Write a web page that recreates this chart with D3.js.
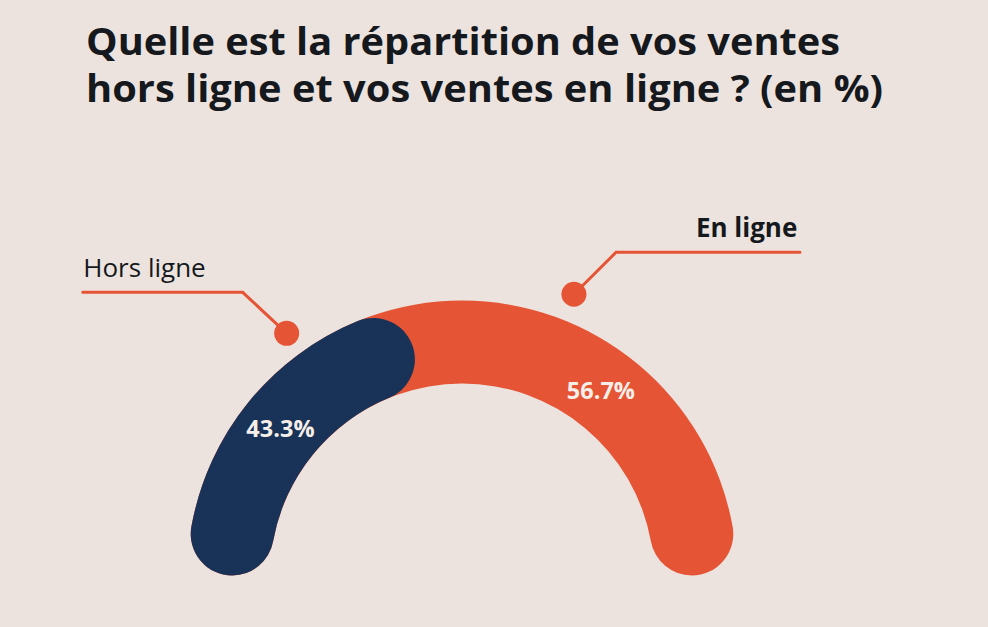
<!DOCTYPE html>
<html>
<head>
<meta charset="utf-8">
<script src="https://cdn.jsdelivr.net/npm/d3@7/dist/d3.min.js"></script>
<style>
  html, body { margin: 0; padding: 0; background: #EDE3DE; }
  svg { display: block; }
</style>
</head>
<body>
<svg id="chart" width="988" height="627"></svg>
<script>
// ---- data ----
const categories = ["Hors ligne", "En ligne"];
const values = [43.3, 56.7];
const valueLabels = ["43.3%", "56.7%"];
const titleLines = ["Quelle est la répartition de vos ventes", "hors ligne et vos ventes en ligne ? (en %)"];

// ---- styles ----
const colors = ["#183357", "#E55435"];
const bg = "#EDE3DE";
const textDark = "#15191d";
const labelLight = "#F6EEE8";

const svg = d3.select("#chart");
svg.append("rect").attr("width", 988).attr("height", 627).attr("fill", bg);

// title
const titleLens = [754, 797];
svg.append("g").selectAll("text").data(titleLines).join("text")
  .attr("x", 86)
  .attr("y", (d, i) => 54.5 + i * 47)
  .attr("font-family", "'Open Sans', sans-serif")
  .attr("font-weight", 700)
  .attr("font-size", 38)
  .attr("fill", textDark)
  .attr("textLength", (d, i) => titleLens[i])
  .attr("lengthAdjust", "spacingAndGlyphs")
  .text(d => d);

// gauge
const cx = 462, cy = 575.5;
const inner = 192, outer = 275;
const g = svg.append("g").attr("transform", `translate(${cx},${cy})`);

const pie = d3.pie().sort(null).value(d => d)
  .startAngle(-Math.PI / 2).endAngle(Math.PI / 2);
const slices = pie(values);

const arc = d3.arc().innerRadius(inner).outerRadius(outer).cornerRadius((outer - inner) / 2);

// orange drawn under, spanning whole gauge; navy on top with rounded end
const layers = [
  { startAngle: slices[0].startAngle, endAngle: slices[1].endAngle, color: colors[1] },
  { startAngle: slices[0].startAngle, endAngle: slices[0].endAngle, color: colors[0] }
];
g.selectAll("path.seg").data(layers).join("path")
  .attr("class", "seg")
  .attr("d", d => arc(d))
  .attr("fill", d => d.color);

// value labels near centroids
const labelShift = [0, -0.035];
const labelR = [233.5, 231];
g.selectAll("text.val").data(slices).join("text")
  .attr("class", "val")
  .attr("transform", (d, i) => {
    const a = (d.startAngle + d.endAngle) / 2 + labelShift[i];
    return `translate(${labelR[i] * Math.sin(a)},${-labelR[i] * Math.cos(a)})`;
  })
  .attr("text-anchor", "middle")
  .attr("dy", "0.36em")
  .attr("font-family", "'Open Sans', sans-serif")
  .attr("font-weight", 700)
  .attr("font-size", 23.5)
  .attr("fill", labelLight)
  .text((d, i) => valueLabels[i]);

// callouts
const callouts = [
  { angle: -35.9, r: 299, elbow: [-219.3, -283.2], end: [-379.3, -283.2], label: categories[0],
    textPos: [-378.7, -298.2], anchor: "start", weight: 400 },
  { angle: 21.7, r: 302.7, elbow: [154, -323.2], end: [338, -323.2], label: categories[1],
    textPos: [335.3, -338.2], anchor: "end", weight: 700 }
];
const cg = g.append("g");
callouts.forEach(c => {
  const a = c.angle * Math.PI / 180;
  const dx = c.r * Math.sin(a), dy = -c.r * Math.cos(a);
  cg.append("polyline")
    .attr("points", [[dx, dy], c.elbow, c.end].map(p => p.join(",")).join(" "))
    .attr("fill", "none")
    .attr("stroke", colors[1])
    .attr("stroke-width", 3)
    .attr("stroke-linecap", "round");
  cg.append("circle").attr("cx", dx).attr("cy", dy).attr("r", 12.5).attr("fill", colors[1]);
  cg.append("text")
    .attr("x", c.textPos[0]).attr("y", c.textPos[1])
    .attr("text-anchor", c.anchor)
    .attr("font-family", "'Open Sans', sans-serif")
    .attr("font-weight", c.weight)
    .attr("font-size", 26)
    .attr("fill", textDark)
    .text(c.label);
});
</script>
</body>
</html>
